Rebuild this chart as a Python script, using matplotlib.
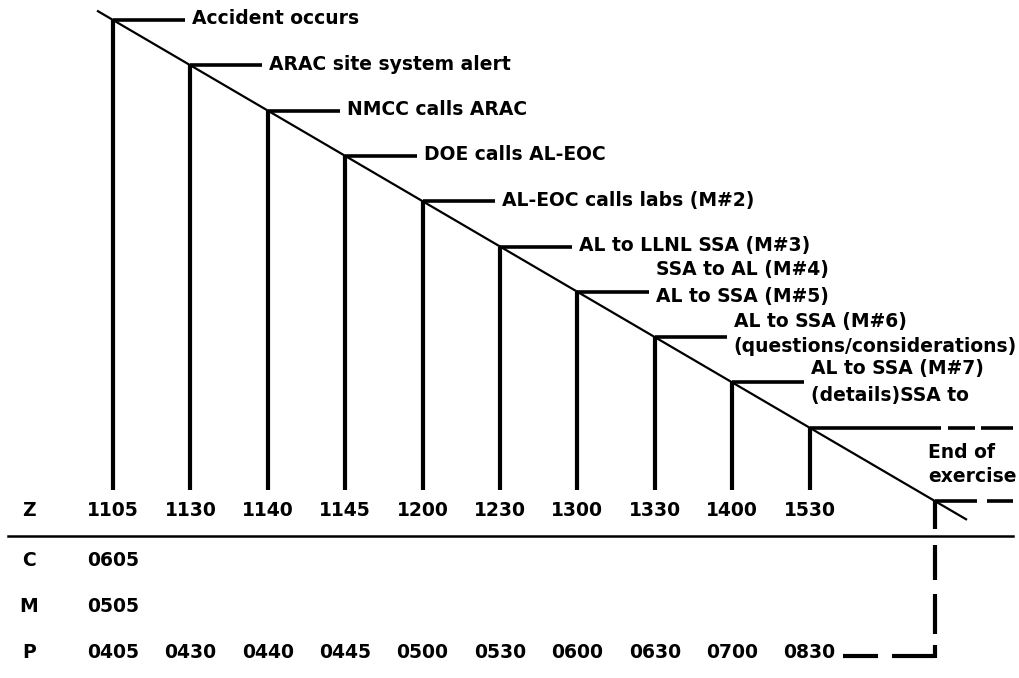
import matplotlib
matplotlib.use("Agg")
import matplotlib.pyplot as plt

plt.rcParams['lines.scale_dashes'] = False
plt.rcParams['font.family'] = ['DejaVu Sans']

# ---------------- data ----------------
event_labels = [
    ["Accident occurs"],
    ["ARAC site system alert"],
    ["NMCC calls ARAC"],
    ["DOE calls AL-EOC"],
    ["AL-EOC calls labs (M#2)"],
    ["AL to LLNL SSA (M#3)"],
    ["SSA to AL (M#4)", "AL to SSA (M#5)"],
    ["AL to SSA (M#6)", "(questions/considerations)"],
    ["AL to SSA (M#7)", "(details)SSA to"],
    [],
]
zone_names = ["Z", "C", "M", "P"]
z_times = ["1105", "1130", "1140", "1145", "1200", "1230", "1300", "1330", "1400", "1530"]
c_times = ["0605"]
m_times = ["0505"]
p_times = ["0405", "0430", "0440", "0445", "0500", "0530", "0600", "0630", "0700", "0830"]
end_label = ["End of", "exercise"]

# ---------------- layout (pixel based) ----------------
W, H = 1020, 678
X0_PX, DX_PX = 113, 77.4          # position of first column and column pitch
Y0_PX, DY_PX = 20, 45.3           # diagonal height at first column, drop per column
END_POS = 10.62                   # column position of "end of exercise"

def px2x(px):
    return (px - X0_PX) / DX_PX

def diag_y(pos):
    return Y0_PX + DY_PX * pos

FS = 13.5
txt = dict(fontsize=FS, fontweight='bold', color='black')
PT = 72 / 100.0  # px -> pt

fig = plt.figure(figsize=(W / 100, H / 100), dpi=100)
ax = fig.add_axes([0, 0, 1, 1])
ax.set_xlim(px2x(0), px2x(W))
ax.set_ylim(H, 0)
ax.axis('off')

BOTTOM_Y = 490
ROW_Y = {"Z": 510, "C": 561, "M": 607, "P": 653}
BASE_Y = 536

# diagonal line
d_start, d_end = px2x(97), px2x(967)
ax.plot([d_start, d_end], [diag_y(d_start), diag_y(d_end)], color='black', lw=1.6,
        solid_capstyle='butt')

# vertical lines, stubs and labels
stub_len = 0.93
text_off = 1.02
two_line_offsets = {6: (-22, 5), 7: (-16, 9), 8: (-14, 13)}
for i, lines in enumerate(event_labels):
    yt = diag_y(i)
    ax.plot([i, i], [yt, BOTTOM_Y], color='black', lw=3.0, solid_capstyle='butt')
    if i < 9:
        ax.plot([i, i + stub_len], [yt, yt], color='black', lw=2.6, solid_capstyle='butt')
        tx = i + text_off
        if len(lines) == 1:
            ax.text(tx, yt - 1, lines[0], ha='left', va='center', **txt)
        else:
            o1, o2 = two_line_offsets[i]
            ax.text(tx, yt + o1, lines[0], ha='left', va='center', **txt)
            ax.text(tx, yt + o2, lines[1], ha='left', va='center', **txt)
    else:
        # last stub: solid then dashes to right edge
        x_end = px2x(1013)
        ln, = ax.plot([i, x_end], [yt, yt], color='black', lw=2.6, solid_capstyle='butt')
        ln.set_dashes((131 * PT, 7 * PT, 27 * PT, 6 * PT, 40 * PT, 20 * PT))

# end of exercise marker
ye = diag_y(END_POS)
ln, = ax.plot([END_POS, END_POS], [ye, 658], color='black', lw=3.0, solid_capstyle='butt')
ln.set_dashes((28 * PT, 16 * PT, 35 * PT, 14 * PT, 40 * PT, 11 * PT, 15 * PT, 20 * PT))
ln, = ax.plot([END_POS, px2x(1013)], [ye, ye], color='black', lw=2.6, solid_capstyle='butt')
ln.set_dashes((42 * PT, 10 * PT, 28 * PT, 20 * PT))
ax.text(px2x(928), 453, end_label[0], ha='left', va='center', **txt)
ax.text(px2x(928), 477, end_label[1], ha='left', va='center', **txt)

# baseline
ax.plot([px2x(8), px2x(1013)], [BASE_Y, BASE_Y], color='black', lw=1.8)

# time rows
ZONE_X = px2x(29)
for name, times in zip(zone_names, [z_times, c_times, m_times, p_times]):
    y = ROW_Y[name]
    ax.text(ZONE_X, y, name, ha='center', va='center', **txt)
    for i, t in enumerate(times):
        ax.text(i, y, t, ha='center', va='center', **txt)

# dashed connector from P 0830 to end of exercise
ln, = ax.plot([px2x(843), END_POS], [656, 656], color='black', lw=3.0, solid_capstyle='butt')
ln.set_dashes((35 * PT, 14 * PT, 45 * PT, 20 * PT))

fig.savefig("out.png", dpi=100, facecolor='white')
